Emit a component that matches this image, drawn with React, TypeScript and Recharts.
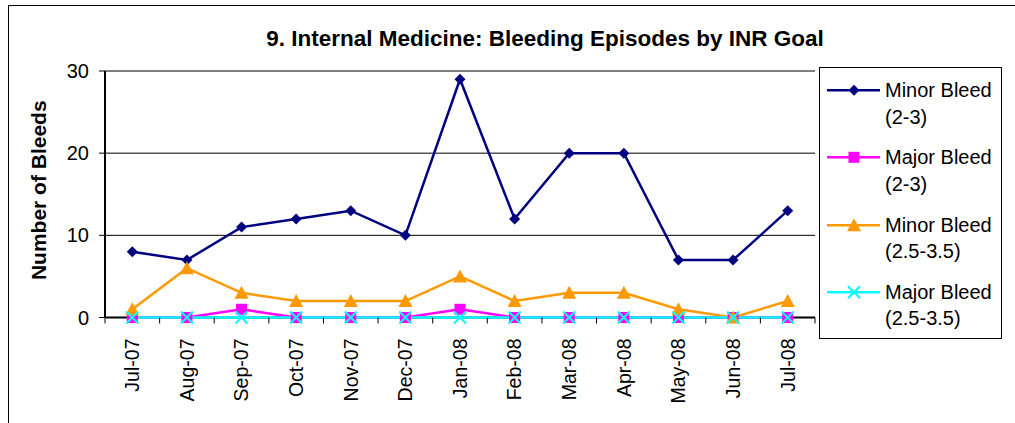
import React from "react";
import { LineChart, Line, XAxis, YAxis, CartesianGrid, Legend } from "recharts";

const months = [
  "Jul-07", "Aug-07", "Sep-07", "Oct-07", "Nov-07", "Dec-07", "Jan-08",
  "Feb-08", "Mar-08", "Apr-08", "May-08", "Jun-08", "Jul-08",
];
const minorBleed23 = [8, 7, 11, 12, 13, 10, 29, 12, 20, 20, 7, 7, 13];
const majorBleed23 = [0, 0, 1, 0, 0, 0, 1, 0, 0, 0, 0, 0, 0];
const minorBleed2535 = [1, 6, 3, 2, 2, 2, 5, 2, 3, 3, 1, 0, 2];
const majorBleed2535 = [0, 0, 0, 0, 0, 0, 0, 0, 0, 0, 0, 0, 0];
const yTicks = [0, 10, 20, 30];

const FONT = "Arial, 'Liberation Sans', sans-serif";
const PLOT_W = 710;
const BAND = PLOT_W / months.length;

const series = [
  { key: "minor23", name: "Minor Bleed (2-3)", color: "#000080", shape: "diamond" },
  { key: "major23", name: "Major Bleed (2-3)", color: "#FF00FF", shape: "square" },
  { key: "minor2535", name: "Minor Bleed (2.5-3.5)", color: "#FF9900", shape: "triangle" },
  { key: "major2535", name: "Major Bleed (2.5-3.5)", color: "#00FFFF", shape: "x" },
];

const data = months.map((month, i) => ({
  month,
  minor23: minorBleed23[i],
  major23: majorBleed23[i],
  minor2535: minorBleed2535[i],
  major2535: majorBleed2535[i],
}));

// marker glyphs like the excel ones
const Marker = ({ shape, cx, cy, color }: any) => {
  if (cx == null || cy == null) return null;
  switch (shape) {
    case "diamond":
      return <polygon points={`${cx},${cy - 5.5} ${cx + 5.5},${cy} ${cx},${cy + 5.5} ${cx - 5.5},${cy}`} fill={color} />;
    case "square":
      return <rect x={cx - 5.5} y={cy - 5.5} width={11} height={11} fill={color} />;
    case "triangle":
      return <polygon points={`${cx},${cy - 7} ${cx + 7},${cy + 6} ${cx - 7},${cy + 6}`} fill={color} />;
    default:
      return (
        <g stroke={color} strokeWidth={2}>
          <line x1={cx - 6} y1={cy - 6} x2={cx + 6} y2={cy + 6} />
          <line x1={cx - 6} y1={cy + 6} x2={cx + 6} y2={cy - 6} />
        </g>
      );
  }
};

// month label rotated, tick marks sit between the categories
const MonthTick = ({ x, y, payload, index }: any) => (
  <g>
    <line x1={x - BAND / 2} y1={y} x2={x - BAND / 2} y2={y + 6} stroke="#000" />
    {index === months.length - 1 && (
      <line x1={x + BAND / 2} y1={y} x2={x + BAND / 2} y2={y + 6} stroke="#000" />
    )}
    <text
      x={x}
      y={y + 21}
      transform={`rotate(-90, ${x}, ${y + 21})`}
      textAnchor="end"
      dy="0.35em"
      fontSize={19.5}
      fontFamily={FONT}
      fill="#000"
    >
      {payload.value}
    </text>
  </g>
);

// legend keeps the series order (recharts would sort it)
const LegendBox = () => (
  <div
    style={{
      width: 181,
      height: 270,
      border: "1px solid #000",
      background: "#fff",
      position: "relative",
      fontFamily: FONT,
      fontSize: 20,
      lineHeight: "26.6px",
      color: "#000",
    }}
  >
    {series.map((s, i) => {
      const [first, second] = s.name.split(" (");
      return (
        <div key={s.key} style={{ position: "absolute", left: 7, top: 9 + i * 67.3 }}>
          <svg width={54} height={27} style={{ position: "absolute", left: 0, top: 0 }}>
            <line x1={0} y1={13.3} x2={53} y2={13.3} stroke={s.color} strokeWidth={2.5} />
            <Marker shape={s.shape} cx={27} cy={13.3} color={s.color} />
          </svg>
          <div style={{ position: "absolute", left: 58, top: 0, whiteSpace: "nowrap" }}>
            {first}
            <br />({second}
          </div>
        </div>
      );
    })}
  </div>
);

export default function App() {
  return (
    <div style={{ position: "absolute", left: 0, top: 0, width: 1015, height: 423, overflow: "hidden", background: "#fff" }}>
      <div
        style={{
          position: "absolute",
          left: 8,
          top: 5,
          width: 1200,
          height: 600,
          border: "1px solid #000",
        }}
      />
      <div
        style={{
          position: "absolute",
          left: 0,
          top: 28.5,
          width: 1090,
          textAlign: "center",
          fontFamily: FONT,
          fontWeight: "bold",
          fontSize: 22.5,
          lineHeight: "20px",
          color: "#000",
        }}
      >
        9. Internal Medicine: Bleeding Episodes by INR Goal
      </div>
      <div style={{ position: "absolute", left: 0, top: 0 }}>
        <LineChart width={1015} height={423} data={data} margin={{ top: 71, right: 200, bottom: 25.5, left: 45 }}>
          <CartesianGrid vertical={false} stroke="#000" strokeWidth={1} />
          <XAxis
            dataKey="month"
            interval={0}
            height={80}
            tickSize={0}
            tickMargin={0}
            tickLine={false}
            tick={<MonthTick />}
            padding={{ left: BAND / 2, right: BAND / 2 }}
            axisLine={{ stroke: "#000", strokeWidth: 2 }}
          />
          <XAxis
            xAxisId="top"
            orientation="top"
            dataKey="month"
            height={0}
            tick={false}
            tickLine={false}
            padding={{ left: BAND / 2, right: BAND / 2 }}
            axisLine={{ stroke: "#000", strokeWidth: 2 }}
          />
          <YAxis
            domain={[0, 30]}
            ticks={yTicks}
            width={60}
            tickSize={6}
            tickMargin={10}
            tickLine={{ stroke: "#000" }}
            axisLine={{ stroke: "#000", strokeWidth: 2 }}
            tick={{ fontSize: 20, fontFamily: FONT, fill: "#000" }}
            label={({ viewBox }: any) => {
              const cx = viewBox.x - 7;
              const cy = viewBox.y + viewBox.height / 2 - 4;
              return (
                <text
                  x={cx}
                  y={cy}
                  transform={`rotate(-90, ${cx}, ${cy})`}
                  textAnchor="middle"
                  dominantBaseline="central"
                  fontSize={21}
                  fontWeight="bold"
                  fontFamily={FONT}
                  fill="#000"
                >
                  Number of Bleeds
                </text>
              );
            }}
          />
          <YAxis
            yAxisId="right"
            orientation="right"
            domain={[0, 30]}
            width={0}
            tick={false}
            tickLine={false}
            axisLine={{ stroke: "#000", strokeWidth: 2 }}
          />
          <Legend
            layout="vertical"
            align="center"
            verticalAlign="middle"
            wrapperStyle={{ left: 819, top: 67, width: 183 }}
            content={<LegendBox />}
          />
          {series.map((s) => (
            <Line
              key={s.key}
              type="linear"
              dataKey={s.key}
              name={s.name}
              stroke={s.color}
              strokeWidth={2.5}
              isAnimationActive={false}
              // lines go above the axis line like in excel
              {...({ zIndex: 600 } as any)}
              dot={(p: any) => <Marker key={`${s.key}-${p.index}`} shape={s.shape} cx={p.cx} cy={p.cy} color={s.color} />}
              activeDot={false}
            />
          ))}
        </LineChart>
      </div>
    </div>
  );
}
